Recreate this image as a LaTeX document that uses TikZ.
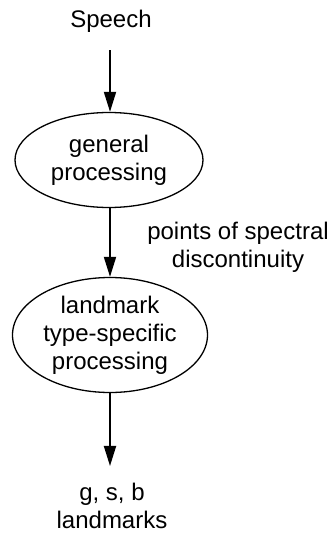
\documentclass[tikz,border=0pt]{standalone}
\usepackage{fontspec}
\setmainfont{Liberation Sans}
\usetikzlibrary{arrows.meta,shapes.geometric}
\begin{document}
\begin{tikzpicture}[x=1pt,y=1pt,
  txt/.style={font=\fontsize{24}{28}\selectfont, align=center, inner sep=0pt},
  proc/.style={draw, line width=1.3pt, ellipse, inner sep=0pt, txt},
  flow/.style={line width=1.8pt, -{Triangle[length=20pt,width=12pt]}}]
\useasboundingbox (0,0) rectangle (330,-533);
\node[txt] (speech) at (111,-21) {Speech};
\node[proc, minimum width=188pt, minimum height=95pt] (gp) at (109,-160) {general\\processing};
\node[proc, minimum width=195pt, minimum height=115pt] (lm) at (110,-335) {landmark\\type-specific\\processing};
\node[txt] (pts) at (238,-247) {points of spectral\\discontinuity};
\node[txt] (out) at (112,-506) {g, s, b\\landmarks};
\draw[flow, shorten <=18pt] (speech.south -| lm.north) -- (gp.north -| lm.north);
\draw[flow] (gp.south -| lm.north) -- (lm.north);
\draw[flow, shorten >=17pt] (lm.south) -- (lm.south |- out.north);
\end{tikzpicture}
\end{document}
